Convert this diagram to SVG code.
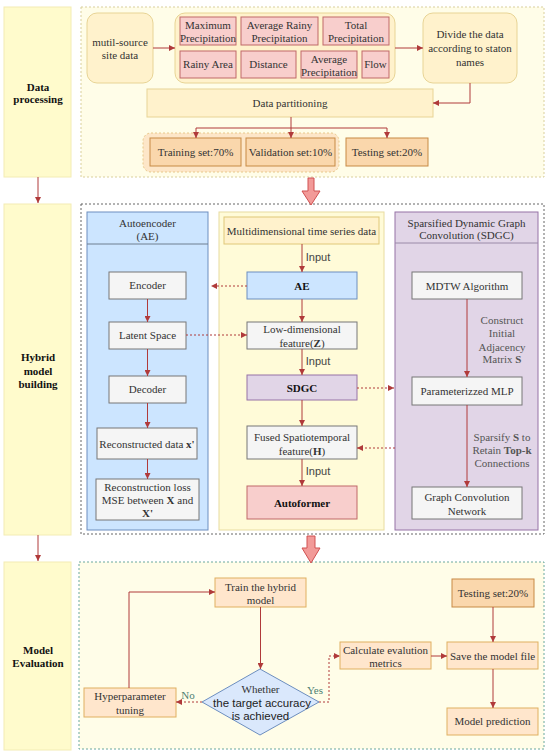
<svg xmlns="http://www.w3.org/2000/svg" width="550" height="756" viewBox="0 0 550 756">
<defs>
<marker id="ah" viewBox="0 0 6 6" refX="6" refY="3" markerWidth="6" markerHeight="6" markerUnits="userSpaceOnUse" orient="auto"><path d="M0,0 L6,3 L0,6 z" fill="#b03a3a"/></marker>
<style>
text{font-family:"Liberation Serif","Times New Roman",serif;font-size:11px;fill:#333;text-anchor:middle}
.b{font-weight:bold;fill:#111}
.sans{font-family:"Liberation Sans",Arial,sans-serif;fill:#444}
.os{font-family:"Liberation Sans",Arial,sans-serif;fill:#222;font-size:11.5px}
.lab{fill:#555}
.gl{fill:#4e7f73}
.col{fill:#fffbcc;stroke:#f3ecb4;stroke-width:1}
.cy{fill:#fff2cc;stroke:#e8d495;stroke-width:1}
.pk{fill:#f8cecc;stroke:#c06868;stroke-width:1}
.or{fill:#fad7ac;stroke:#c78a45;stroke-width:1}
.lo{fill:#ffe6cc;stroke:#e0b060;stroke-width:1}
.gy{fill:#f5f5f5;stroke:#777;stroke-width:1}
.bl{fill:#cce5ff;stroke:#6c8ebf;stroke-width:1}
.pu{fill:#e1d5e7;stroke:#9673a6;stroke-width:1}
.c{fill:none;stroke:#b03a3a;stroke-width:1;marker-end:url(#ah)}
.d{stroke-dasharray:2,2}
.big{fill:#f29a98;stroke:#d05050;stroke-width:1}
</style>
</defs>

<!-- Section columns -->
<g id="col-data-processing"><rect class="col" x="4" y="7" width="67" height="170"/><text class="b" x="38" y="91">Data</text><text class="b" x="38" y="103">processing</text></g>
<g id="col-hybrid"><rect class="col" x="4" y="204" width="67" height="331"/><text class="b" x="38" y="361">Hybrid</text><text class="b" x="38" y="374.5">model</text><text class="b" x="38" y="388">building</text></g>
<g id="col-eval"><rect class="col" x="4" y="562" width="67" height="188"/><text class="b" x="38" y="654">Model</text><text class="b" x="38" y="667">Evaluation</text></g>

<!-- Containers -->
<g id="container-top"><rect x="81" y="7" width="463" height="170" fill="#fffde8" stroke="#d9cf9c" stroke-dasharray="2,2"/></g>
<g id="container-mid"><rect x="81" y="204" width="463" height="330" fill="#ffffff" stroke="#666" stroke-dasharray="2,2"/></g>
<g id="container-bot"><rect x="79" y="562" width="465" height="187" fill="#fffde8" stroke="#6aa89e" stroke-dasharray="2,2"/></g>

<!-- Top section -->
<g id="mutil-source"><rect class="cy" x="87" y="13" width="66" height="70" rx="10"/><text x="120" y="46">mutil-source</text><text x="120" y="59">site data</text></g>
<g id="features"><rect class="cy" x="175" y="13" width="220" height="70" rx="10"/></g>
<g id="max-precip"><rect class="pk" x="180" y="17" width="56" height="28"/><text x="208" y="29">Maximum</text><text x="208" y="42">Precipitation</text></g>
<g id="avg-rainy-precip"><rect class="pk" x="241" y="17" width="77" height="28"/><text x="279.5" y="29">Average Rainy</text><text x="279.5" y="42">Precipitation</text></g>
<g id="total-precip"><rect class="pk" x="323" y="17" width="66" height="28"/><text x="356" y="29">Total</text><text x="356" y="42">Precipitation</text></g>
<g id="rainy-area"><rect class="pk" x="180" y="51" width="56" height="27"/><text x="208" y="68">Rainy Area</text></g>
<g id="distance"><rect class="pk" x="241" y="51" width="55" height="27"/><text x="268.5" y="68">Distance</text></g>
<g id="avg-precip"><rect class="pk" x="301" y="51" width="56" height="27"/><text x="329" y="62.5">Average</text><text x="329" y="75.5">Precipitation</text></g>
<g id="flow"><rect class="pk" x="362" y="51" width="27" height="27"/><text x="375.5" y="68">Flow</text></g>
<g id="divide"><rect class="cy" x="423" y="13" width="94" height="70" rx="10"/><text x="470" y="38">Divide the data</text><text x="470" y="51.5">according to staton</text><text x="470" y="65.5">names</text></g>
<g id="data-partitioning"><rect class="cy" x="147" y="89" width="286" height="28"/><text x="290" y="107">Data partitioning</text></g>
<g id="train-val-group"><rect x="143" y="133" width="196" height="39" rx="8" fill="#fde6c8" stroke="#e8c88a" stroke-dasharray="2,2"/></g>
<g id="training"><rect class="or" x="150" y="138" width="91" height="28"/><text x="195.5" y="156">Training set:70%</text></g>
<g id="validation"><rect class="or" x="246" y="138" width="89" height="28"/><text x="290.5" y="156">Validation set:10%</text></g>
<g id="testing"><rect class="or" x="346" y="138" width="82" height="28"/><text x="387" y="156">Testing set:20%</text></g>

<!-- Middle section -->
<g id="ae-panel"><rect class="bl" x="87" y="212" width="121" height="318" stroke="#6f7f90"/><line x1="87" y1="244" x2="208" y2="244" stroke="#6f7f90"/><text x="147.5" y="227">Autoencoder</text><text x="147.5" y="240">(AE)</text></g>
<g id="encoder"><rect class="gy" x="109" y="272" width="77" height="27"/><text x="147.5" y="289">Encoder</text></g>
<g id="latent"><rect class="gy" x="109" y="322" width="77" height="27"/><text x="147.5" y="339">Latent Space</text></g>
<g id="decoder"><rect class="gy" x="109" y="376" width="77" height="27"/><text x="147.5" y="393">Decoder</text></g>
<g id="recon-data"><rect class="gy" x="97" y="428" width="100" height="31"/><text x="147" y="447.5">Reconstructed data <tspan font-weight="bold">x'</tspan></text></g>
<g id="recon-loss"><rect class="gy" x="96" y="479" width="103" height="41"/><text x="147.5" y="491">Reconstruction loss</text><text x="147.5" y="504">MSE between <tspan font-weight="bold">X</tspan> and</text><text x="147.5" y="517"><tspan font-weight="bold">X'</tspan></text></g>

<g id="center-panel"><rect x="219" y="212" width="165" height="318" fill="#fffbd8" stroke="#e8dca0"/></g>
<g id="mts"><rect x="224" y="217" width="155" height="27" fill="#fff2cc" stroke="#e0c878"/><text x="301.5" y="234.5">Multidimensional time series data</text></g>
<g id="ae"><rect class="bl" x="247" y="272" width="110" height="27"/><text class="b" x="302" y="289.5">AE</text></g>
<g id="low-dim"><rect class="gy" x="247" y="322" width="110" height="27"/><text x="302" y="333">Low-dimensional</text><text x="302" y="346.5">feature(<tspan font-weight="bold">Z</tspan>)</text></g>
<g id="sdgc"><rect class="pu" x="247" y="375" width="110" height="25"/><text class="b" x="302" y="391.5">SDGC</text></g>
<g id="fused"><rect class="gy" x="247" y="426" width="110" height="33"/><text x="302" y="441">Fused Spatiotemporal</text><text x="302" y="454.5">feature(<tspan font-weight="bold">H</tspan>)</text></g>
<g id="autoformer"><rect class="pk" x="247" y="486" width="110" height="33"/><text class="b" x="302" y="506.5">Autoformer</text></g>

<g id="sdgc-panel"><rect class="pu" x="395" y="212" width="143" height="318" stroke="#9a8aa8"/><line x1="395" y1="243" x2="538" y2="243" stroke="#9a8aa8"/><text x="466.5" y="227">Sparsified Dynamic Graph</text><text x="466.5" y="239">Convolution (SDGC)</text></g>
<g id="mdtw"><rect class="gy" x="412" y="272" width="110" height="27"/><text x="467" y="289.5">MDTW Algorithm</text></g>
<g id="mlp"><rect class="gy" x="412" y="377" width="110" height="28"/><text x="467" y="395">Parameterizzed MLP</text></g>
<g id="gcn"><rect class="gy" x="412" y="487" width="110" height="32"/><text x="467" y="501">Graph Convolution</text><text x="467" y="515">Network</text></g>

<!-- Bottom section -->
<g id="train-model"><rect class="lo" x="215" y="578" width="91" height="29"/><text x="260.5" y="590.5">Train the hybrid</text><text x="260.5" y="604">model</text></g>
<g id="decision"><polygon points="260,669 319,702 260,735 202,702" fill="#dae8fc" stroke="#6c8ebf"/><text x="260.5" y="692.5" font-size="10.5">Whether</text><text class="os" x="262" y="706.5">the target accuracy</text><text class="os" x="260.5" y="719.5">is achieved</text></g>
<g id="hyper"><rect class="lo" x="84" y="688" width="92" height="29"/><text x="130" y="700">Hyperparameter</text><text x="130" y="714">tuning</text></g>
<g id="calc"><rect class="lo" x="340" y="642" width="91" height="27"/><text x="385.5" y="654">Calculate evalution</text><text x="385.5" y="667">metrics</text></g>
<g id="save"><rect class="lo" x="447" y="642" width="91" height="27"/><text x="492.5" y="659.5">Save the model file</text></g>
<g id="testing2"><rect class="or" x="452" y="579" width="82" height="28"/><text x="493" y="597">Testing set:20%</text></g>
<g id="prediction"><rect class="lo" x="447" y="708" width="91" height="27"/><text x="492.5" y="725">Model prediction</text></g>

<!-- Connectors -->
<g id="connectors">
<path class="c" d="M38,177 V203"/>
<path class="c" d="M38,535 V561"/>
<polygon class="big" points="308,178 314,178 314,191 320,191 311,205 302,191 308,191"/>
<polygon class="big" points="307,536 315,536 315,548 320,548 311,563 302,548 307,548"/>

<path class="c" d="M153,48 H175"/>
<path class="c" d="M395,48 H423"/>
<path class="c" d="M470,83 V103 H433"/>
<path fill="none" stroke="#b03a3a" d="M291,117 V128 M196,128 H387"/>
<path class="c" d="M196,128 V138"/>
<path class="c" d="M291,128 V138"/>
<path class="c" d="M387,128 V138"/>

<path class="c" d="M147.5,299 V322"/>
<path class="c" d="M147.5,349 V376"/>
<path class="c" d="M147.5,403 V428"/>
<path class="c" d="M147.5,459 V479"/>

<path class="c" d="M302,244 V272"/>
<text class="sans" x="318" y="261">Input</text>
<path class="c d" d="M247,286 H211"/>
<path class="c" d="M302,299 V322"/>
<path class="c d" d="M186,335 H247"/>
<text class="sans" x="318" y="365">Input</text>
<path class="c" d="M302,349 V375"/>
<path class="c d" d="M357,388 H394"/>
<path class="c" d="M302,400 V426"/>
<path class="c d" d="M395,448 H357"/>
<text class="sans" x="318" y="475">Input</text>
<path class="c" d="M302,459 V486"/>

<path class="c" d="M467,299 V377"/>
<text class="lab" x="502" y="324">Construct</text>
<text class="lab" x="502" y="337">Initial</text>
<text class="lab" x="502" y="350.5">Adjacency</text>
<text class="lab" x="502" y="363">Matrix <tspan font-weight="bold">S</tspan></text>
<path class="c" d="M467,405 V487"/>
<text class="lab" x="502" y="441">Sparsify <tspan font-weight="bold">S</tspan> to</text>
<text class="lab" x="502" y="454">Retain <tspan font-weight="bold">Top-k</tspan></text>
<text class="lab" x="502" y="467">Connections</text>

<path class="c" d="M260.5,607 V669"/>
<path class="c d" d="M202,702 H176"/>
<text class="gl" x="188" y="699">No</text>
<path class="c" d="M129,688 V592 H215"/>
<path class="c d" d="M319,702 H329 V656 H340"/>
<text class="gl" x="315" y="694">Yes</text>
<path class="c" d="M431,656 H447"/>
<path class="c" d="M493,607 V642"/>
<path class="c" d="M493,669 V708"/>
</g>
</svg>
